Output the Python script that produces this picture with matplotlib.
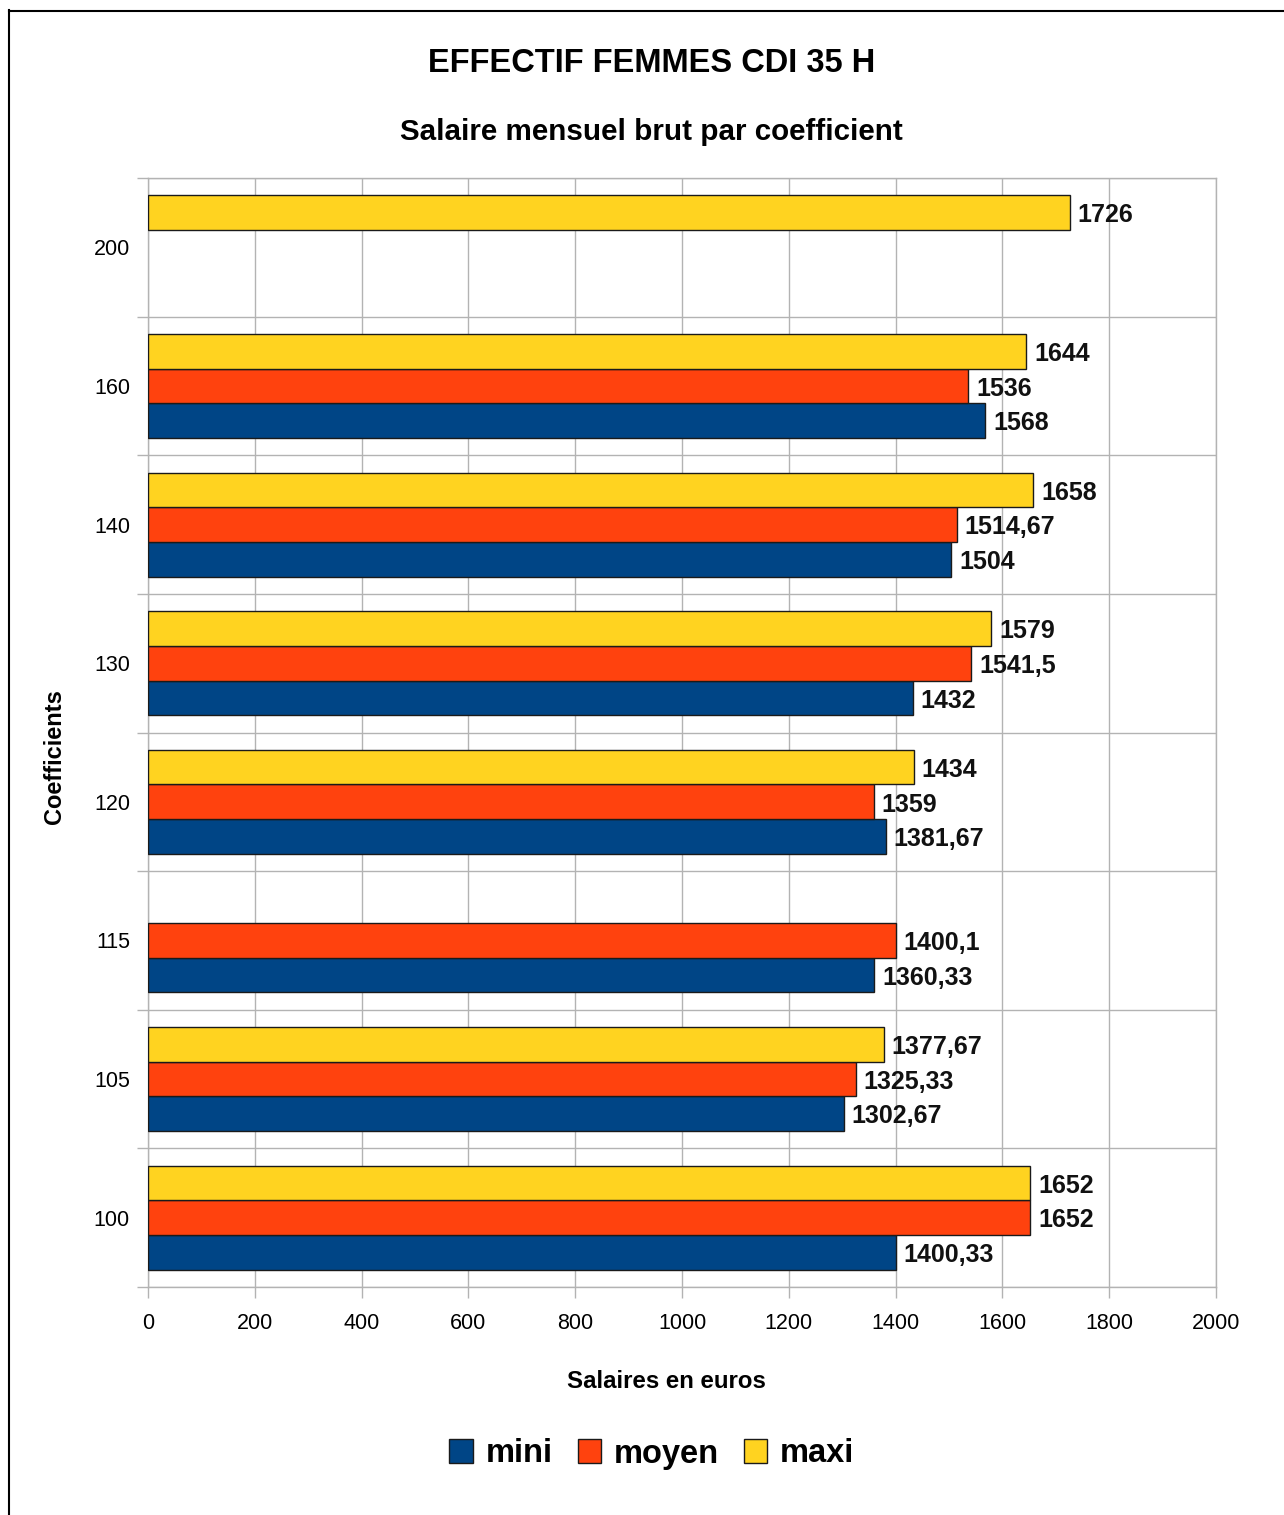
import numpy as np
import matplotlib
matplotlib.use("Agg")
import matplotlib.pyplot as plt
from matplotlib.lines import Line2D
from matplotlib.patches import Patch

plt.rcParams['font.family'] = ['Liberation Sans', 'DejaVu Sans']

# data (bottom to top)
coefficients = ['100', '105', '115', '120', '130', '140', '160', '200']
mini = [1400.33, 1302.67, 1360.33, 1381.67, 1432, 1504, 1568, np.nan]
moyen = [1652, 1325.33, 1400.1, 1359, 1541.5, 1514.67, 1536, np.nan]
maxi = [1652, 1377.67, np.nan, 1434, 1579, 1658, 1644, 1726]
x_ticks = list(range(0, 2001, 200))

series = [
    ('mini', mini, '#004586', -0.25),
    ('moyen', moyen, '#ff420e', 0.0),
    ('maxi', maxi, '#ffd320', 0.25),
]

W, H = 1284, 1515
fig = plt.figure(figsize=(W / 100, H / 100), dpi=100)
ax = fig.add_axes([148 / W, 1 - 1287 / H, (1216 - 148) / W, (1287 - 178) / H])

pos = np.arange(len(coefficients))
grid_col = '#b3b3b3'

for name, vals, col, off in series:
    vals = np.array(vals, dtype=float)
    ok = ~np.isnan(vals)
    ax.barh(pos[ok] + off, vals[ok], height=0.25, color=col,
            edgecolor='#1a1a1a', linewidth=1.0, zorder=3)
    for p, v in zip(pos[ok] + off, vals[ok]):
        ax.text(v + 15, p - 0.02, f"{v:g}".replace('.', ','), va='center', ha='left',
                fontsize=18, fontweight='bold', color='#111111', zorder=4)

ax.set_xlim(0, 2000)
ax.set_ylim(-0.5, len(coefficients) - 0.5)
ax.set_xticks(x_ticks)
ax.set_xticklabels([str(t) for t in x_ticks], fontsize=15.5)
ax.set_yticks(pos)
ax.set_yticklabels(coefficients, fontsize=15.5)
ax.set_yticks(np.arange(len(coefficients) + 1) - 0.5, minor=True)

ax.tick_params(axis='x', length=8, width=1, color=grid_col, pad=11)
ax.tick_params(axis='y', which='major', length=0, pad=13)
ax.tick_params(axis='y', which='minor', length=8, width=1, color=grid_col)

ax.grid(axis='x', which='major', color=grid_col, linewidth=1, zorder=0)
ax.grid(axis='y', which='minor', color=grid_col, linewidth=1, zorder=0)
for s in ax.spines.values():
    s.set_color(grid_col)
    s.set_linewidth(1)

fig.text(652 / W, 1 - 64 / H, 'EFFECTIF FEMMES CDI 35 H', ha='center', va='center',
         fontsize=23.5, fontweight='bold')
fig.text(651 / W, 1 - 132 / H, 'Salaire mensuel brut par coefficient', ha='center',
         va='center', fontsize=21.3, fontweight='bold')
fig.text(666 / W, 1 - 1382 / H, 'Salaires en euros', ha='center', va='center',
         fontsize=17.3, fontweight='bold')
fig.text(54 / W, 1 - 757 / H, 'Coefficients', ha='center', va='center',
         rotation=90, fontsize=17, fontweight='bold')

handles = [Patch(facecolor=c, edgecolor='#1a1a1a', linewidth=1) for _, _, c, _ in series]
fig.legend(handles, [n for n, _, _, _ in series], loc='center', ncol=3,
           bbox_to_anchor=(652 / W, 1 - 1454 / H), frameon=False,
           prop={'size': 23.5, 'weight': 'bold'}, handlelength=0.72, handleheight=0.72,
           handletextpad=0.4, columnspacing=0.75)

# outer frame (left and top edges)
fig.add_artist(Line2D([8.5 / W, 8.5 / W], [0, 1 - 10 / H], color='black', linewidth=1.5))
fig.add_artist(Line2D([8.5 / W, 1], [1 - 10.5 / H, 1 - 10.5 / H], color='black', linewidth=1.5))

fig.savefig('out.png', dpi=100, facecolor='white')
